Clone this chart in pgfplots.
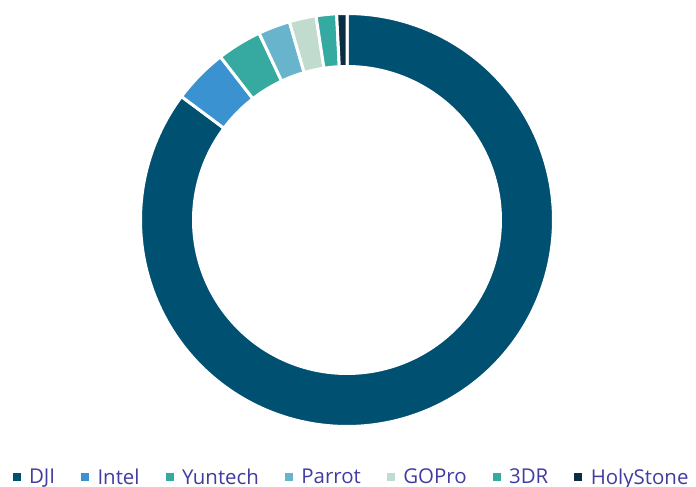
\documentclass[border=0pt]{standalone}
\usepackage{pgfplots}
\usepackage{pgfplotstable}
\pgfplotsset{compat=1.18}
\usepackage{fontspec}
\setmainfont{Open Sans}
\definecolor{cDJI}{RGB}{0,80,114}
\definecolor{cIntel}{RGB}{58,146,208}
\definecolor{cYuntech}{RGB}{54,170,160}
\definecolor{cParrot}{RGB}{104,180,204}
\definecolor{cGOPro}{RGB}{194,219,207}
\definecolor{c3DR}{RGB}{52,170,160}
\definecolor{cHolyStone}{RGB}{10,45,65}
\definecolor{legtext}{RGB}{64,60,160}
\pgfplotstableread{
name value col
DJI 85.2 cDJI
Intel 4.3 cIntel
Yuntech 3.5 cYuntech
Parrot 2.5 cParrot
GOPro 2.1 cGOPro
3DR 1.6 c3DR
HolyStone 0.8 cHolyStone
}\sharetable
\begin{document}
\begin{tikzpicture}
\useasboundingbox (0,0) rectangle (696bp,487bp);
\begin{axis}[
  at={(0,0)}, anchor=south west,
  x=1bp, y=1bp,
  xmin=-347, xmax=349, ymin=-267, ymax=220,
  hide axis, clip=false,
  legend columns=-1,
  legend style={draw=none, fill=none, at={(0.505,0.02)}, anchor=center,
    font=\fontsize{20.5}{24}\selectfont, text=legtext,
    /tikz/every odd column/.append style={column sep=6.5bp},
    /tikz/every even column/.append style={column sep=24bp}},
  legend image code/.code={\fill[#1,draw=none] (0bp,-4bp) rectangle (8bp,4bp);},
]
\def\R{206.5}
\def\ri{153.5}
\def\cum{0}
\pgfplotsforeachungrouped \i in {0,...,6}{%
  \pgfplotstablegetelem{\i}{value}\of\sharetable \let\v\pgfplotsretval
  \pgfplotstablegetelem{\i}{col}\of\sharetable \let\c\pgfplotsretval
  \pgfplotstablegetelem{\i}{name}\of\sharetable \let\n\pgfplotsretval
  \pgfmathsetmacro\aA{90-3.6*\cum}%
  \pgfmathsetmacro\cum{\cum+\v}%
  \pgfmathsetmacro\aB{90-3.6*\cum}%
  \edef\doplot{\noexpand\addplot[fill=\c, draw=white, line width=3bp, domain=0:3, samples=601]
    ({((x<1)?\R:((x<2)?(\R+(\ri-\R)*(x-1)):\ri))*cos((x<1)?(\aA+(\aB-\aA)*x):((x<2)?\aB:(\aB+(\aA-\aB)*(x-2))))},
     {((x<1)?\R:((x<2)?(\R+(\ri-\R)*(x-1)):\ri))*sin((x<1)?(\aA+(\aB-\aA)*x):((x<2)?\aB:(\aB+(\aA-\aB)*(x-2))))}) -- cycle;
    \noexpand\addlegendentry{\n}}%
  \doplot
}
\end{axis}
\end{tikzpicture}
\end{document}
